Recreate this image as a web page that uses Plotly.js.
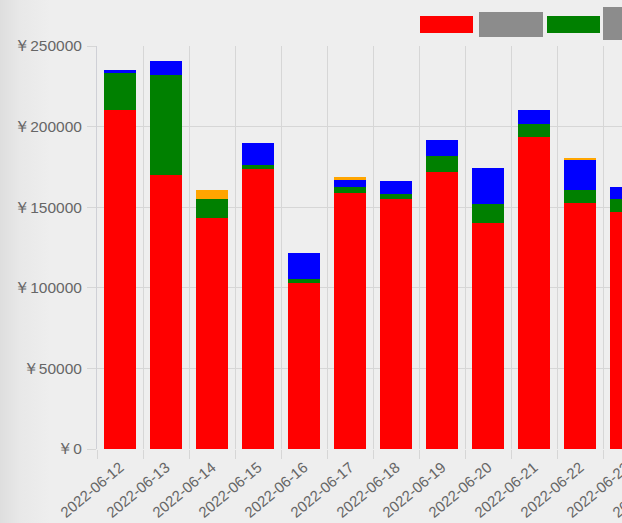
<!DOCTYPE html>
<html>
<head>
<meta charset="utf-8">
<script src="https://cdn.plot.ly/plotly-3.0.1.min.js"></script>
<style>
html,body{margin:0;padding:0;overflow:hidden;width:622px;height:523px;}
body{background:linear-gradient(to right,#dedede 0px,#e8e8e8 20px,#eeeeee 50px,#eeeeee 100%);}
#chart{width:760px;height:523px;}
</style>
</head>
<body>
<div id="chart"></div>
<script>
const dates = ["2022-06-12","2022-06-13","2022-06-14","2022-06-15","2022-06-16","2022-06-17","2022-06-18","2022-06-19","2022-06-20","2022-06-21","2022-06-22","2022-06-23","2022-06-24"];
const redValues    = [210000,170000,143000,173500,103000,158700,155000,171700,140000,193400,152500,147000,null];
const greenValues  = [23000, 62000, 12000, 2500,  2500,  3700,  3100,  10000, 11800, 8100,  8100,  8000, null];
const blueValues   = [2000,  8700,  0,     13700, 16000, 4400,  8100,  9900,  22300, 8700,  18600, 7400, null];
const orangeValues = [0,     0,     5500,  0,     0,     1800,  0,     0,     0,     0,     1200,  0,    null];
const yTicks = [0,50000,100000,150000,200000,250000];

function bar(vals, color){
  return {type:'bar', x:dates, y:vals, marker:{color:color, line:{width:0}}, width:0.7, hoverinfo:'none', showlegend:false};
}
const traces = [bar(redValues,'#ff0000'), bar(greenValues,'#008000'), bar(blueValues,'#0000ff'), bar(orangeValues,'#ffa500')];

const W = 760;
const legendShapes = [
  {x0:420,x1:473,y0:16,y1:33,c:'#ff0000'},
  {x0:479,x1:543,y0:12,y1:37,c:'#8c8c8c'},
  {x0:547,x1:600,y0:16,y1:33,c:'#008000'},
  {x0:603,x1:667,y0:7,y1:40,c:'#8c8c8c'}
].map(s=>({type:'rect',xref:'paper',yref:'paper',
  x0:(s.x0-97)/(W-97-65), x1:(s.x1-97)/(W-97-65),
  y0:1+(46-s.y1)/403, y1:1+(46-s.y0)/403,
  fillcolor:s.c,line:{width:0}}));

const layout = {
  width:W, height:523,
  margin:{l:97,r:65,t:46,b:74,pad:0},
  paper_bgcolor:'rgba(0,0,0,0)', plot_bgcolor:'rgba(0,0,0,0)',
  barmode:'stack', bargap:0.3,
  font:{family:'Liberation Sans, Arial, sans-serif', color:'#666666', size:14},
  xaxis:{type:'category', tickson:'boundaries', ticks:'outside', ticklen:9, tickcolor:'#d6d6d6',
    showgrid:true, gridcolor:'#d6d6d6', gridwidth:1, tickangle:-40, ticklabelstandoff:6,
    showline:false, zeroline:false, tickfont:{size:15,color:'#666666'}, range:[-0.5,12.5]},
  yaxis:{range:[0,250000], tickvals:yTicks, ticktext:yTicks.map(v=>'￥'+v),
    ticks:'outside', ticklen:9, tickcolor:'#d6d6d6', showgrid:true, gridcolor:'#d6d6d6',
    showline:true, linecolor:'#cfd0d6', linewidth:1, zeroline:false, ticklabelstandoff:2,
    tickfont:{size:15.5,color:'#666666'}},
  shapes:legendShapes,
  showlegend:false
};
Plotly.newPlot('chart', traces, layout, {displayModeBar:false, staticPlot:true});
</script>
</body>
</html>
